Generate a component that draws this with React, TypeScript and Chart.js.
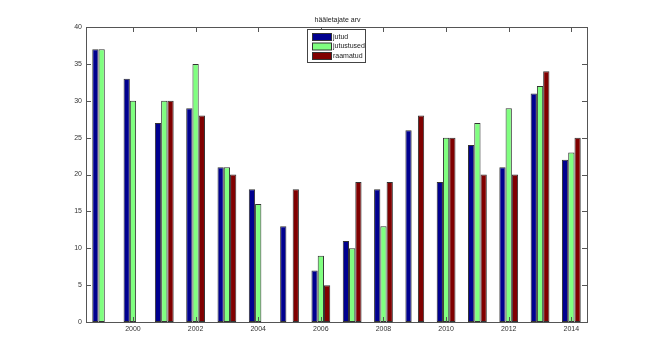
import React, { useEffect, useRef } from "react";
import { Chart, registerables } from "chart.js";

Chart.register(...registerables);

const years = ["1999","2000","2001","2002","2003","2004","2005","2006","2007","2008","2009","2010","2011","2012","2013","2014"];
const jutud = [37, 33, 27, 29, 21, 18, 13, 7, 11, 18, 26, 19, 24, 21, 31, 22];
const jutustused = [37, 30, 30, 35, 21, 16, 0, 9, 10, 13, 0, 25, 27, 29, 32, 23];
const raamatud = [0, 0, 30, 28, 20, 0, 18, 5, 19, 19, 28, 25, 20, 20, 34, 25];
const seriesNames = ["jutud", "jutustused", "raamatud"];
const seriesColors = ["#00008F", "#80FF80", "#800000"];
const titleText = "hääletajate arv";

const FONT = "Liberation Sans, Arial, sans-serif";

const boxPlugin = {
  id: "matlabBox",
  afterDatasetsDraw(chart: any) {
    const { ctx, chartArea: a, scales } = chart;
    const x = scales.x, y = scales.y;
    ctx.save();
    ctx.strokeStyle = "#555";
    ctx.lineWidth = 1;
    ctx.strokeRect(Math.round(a.left) + 0.5, Math.round(a.top) + 0.5, Math.round(a.right - a.left), Math.round(a.bottom - a.top));
    // y ticks
    const tl = 5;
    for (let v = 0; v <= 40; v += 5) {
      const py = Math.round(y.getPixelForValue(v)) + 0.5;
      ctx.beginPath();
      ctx.moveTo(a.left, py); ctx.lineTo(a.left + tl, py);
      ctx.moveTo(a.right, py); ctx.lineTo(a.right - tl, py);
      ctx.stroke();
    }
    // x ticks
    years.forEach((yr, i) => {
      if (Number(yr) % 2 !== 0) return;
      const px = Math.round(x.getPixelForValue(i)) + 0.5;
      ctx.beginPath();
      ctx.moveTo(px, a.bottom); ctx.lineTo(px, a.bottom - tl);
      ctx.moveTo(px, a.top); ctx.lineTo(px, a.top + tl);
      ctx.stroke();
    });
    // title
    ctx.fillStyle = "#222";
    ctx.font = `7px ${FONT}`;
    ctx.textAlign = "center";
    ctx.textBaseline = "bottom";
    ctx.fillText(titleText, (a.left + a.right) / 2 + 1, a.top - 3);
    // legend
    const lx = 307, ly = 29, lw = 58, lh = 33;
    ctx.fillStyle = "#fff";
    ctx.fillRect(lx, ly, lw, lh);
    ctx.strokeStyle = "#444";
    ctx.strokeRect(lx + 0.5, ly + 0.5, lw, lh);
    ctx.font = `7px ${FONT}`;
    ctx.textAlign = "left";
    ctx.textBaseline = "middle";
    seriesNames.forEach((n, i) => {
      const cy = ly + 8 + i * 9.5;
      ctx.fillStyle = seriesColors[i];
      ctx.fillRect(lx + 5, cy - 3.5, 19, 7);
      ctx.strokeStyle = "#333";
      ctx.strokeRect(lx + 5.5, cy - 3.5, 19, 7);
      ctx.fillStyle = "#222";
      ctx.fillText(n, lx + 26, cy);
    });
    ctx.restore();
  },
};

export default function App() {
  const ref = useRef<HTMLCanvasElement>(null);
  useEffect(() => {
    document.body.style.margin = "0";
    const chart = new Chart(ref.current!, {
      type: "bar",
      data: {
        labels: years,
        datasets: [jutud, jutustused, raamatud].map((d, i) => ({
          label: seriesNames[i],
          data: d,
          backgroundColor: seriesColors[i],
          borderColor: "#333",
          borderWidth: 1,
          borderSkipped: false,
          categoryPercentage: 0.6,
          barPercentage: 1.0,
        })),
      },
      options: {
        animation: false,
        responsive: false,
        maintainAspectRatio: false,
        layout: { padding: { left: 0, right: 63, top: 27, bottom: 0 } },
        plugins: { legend: { display: false }, title: { display: false }, tooltip: { enabled: false } },
        scales: {
          x: {
            offset: true,
            grid: { display: false, drawTicks: false },
            border: { display: false },
            ticks: {
              autoSkip: false,
              maxRotation: 0,
              padding: 3,
              color: "#333",
              font: { size: 7, family: FONT },
              callback: (v: any, i: number) => (Number(years[i]) % 2 === 0 ? years[i] : ""),
            },
            afterFit: (s: any) => { s.height = 40; },
          },
          y: {
            min: 0,
            max: 40,
            grid: { display: false, drawTicks: false },
            border: { display: false },
            ticks: { stepSize: 5, padding: 4, color: "#333", font: { size: 7, family: FONT } },
            afterFit: (s: any) => { s.width = 86; },
          },
        },
      },
      plugins: [boxPlugin],
    });
    return () => chart.destroy();
  }, []);
  return (
    <div style={{ width: 650, height: 362, background: "#fff" }}>
      <canvas ref={ref} width={650} height={362} style={{ display: "block" }} />
    </div>
  );
}
